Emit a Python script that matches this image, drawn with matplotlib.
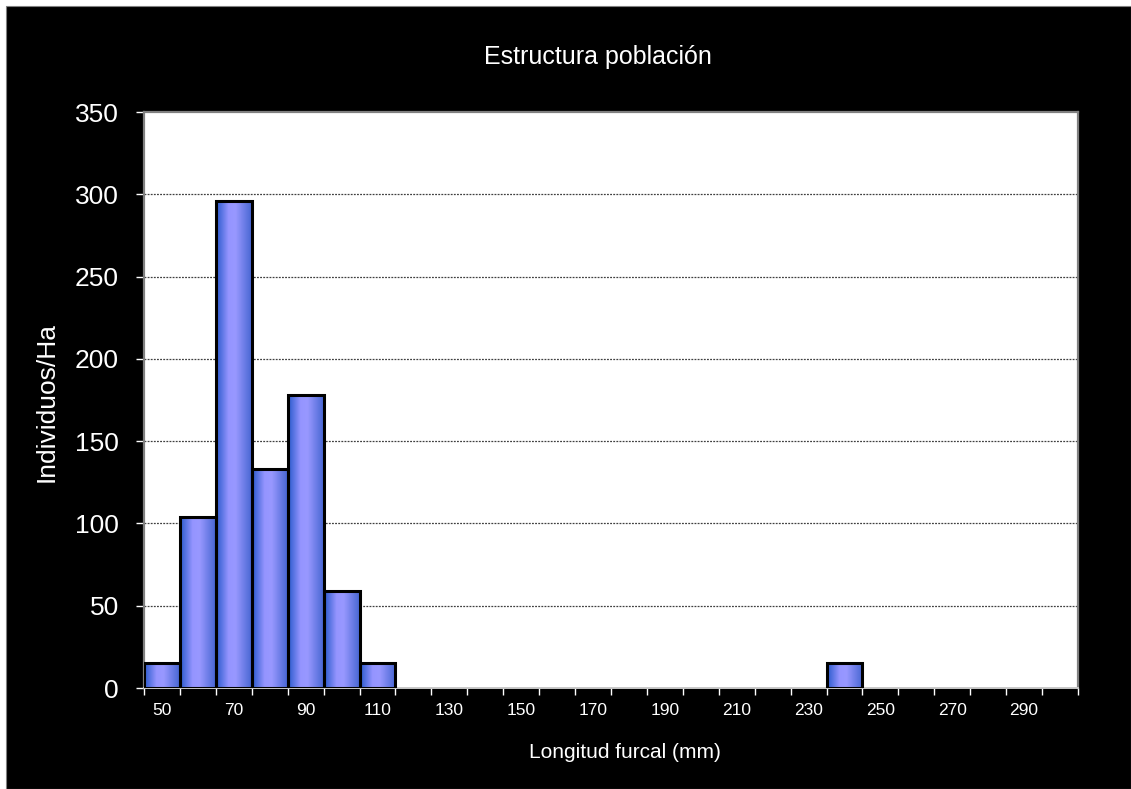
import numpy as np
import matplotlib
matplotlib.use("Agg")
import matplotlib.pyplot as plt
from matplotlib.colors import LinearSegmentedColormap
from matplotlib.patches import Rectangle

# Data
categories = [50, 60, 70, 80, 90, 100, 110, 120, 130, 140, 150, 160, 170, 180,
              190, 200, 210, 220, 230, 240, 250, 260, 270, 280, 290, 300]
values = [15, 104, 296, 133, 178, 59, 15, 0, 0, 0, 0, 0, 0, 0,
          0, 0, 0, 0, 0, 15, 0, 0, 0, 0, 0, 0]
yticks = [0, 50, 100, 150, 200, 250, 300, 350]
title = "Estructura población"
xlabel = "Longitud furcal (mm)"
ylabel = "Individuos/Ha"

plt.rcParams['font.family'] = ['Liberation Sans', 'DejaVu Sans']

W, H = 1131, 789
fig = plt.figure(figsize=(W / 100, H / 100), dpi=100, facecolor='white')
# black background panel (white thin margin at top/left)
bg = fig.add_axes([0, 0, 1, 1], zorder=0)
bg.set_xlim(0, W)
bg.set_ylim(0, H)
bg.axis('off')
bg.add_patch(Rectangle((6, 0), W - 6, H - 6, facecolor='black', edgecolor='#808080',
                       linewidth=0.8))

ax = fig.add_axes([144 / W, (H - 688) / H, (1078 - 144) / W, (688 - 112) / H], zorder=2)
ax.set_facecolor('white')

cmap = LinearSegmentedColormap.from_list('cyl', [(0.0, '#2A5ACC'), (0.35, '#9595FF'),
                                                 (0.55, '#9898FF'), (1.0, '#4766D2')])
grad = np.linspace(0, 1, 64).reshape(1, -1)
n = len(categories)
for i, v in enumerate(values):
    if v <= 0:
        continue
    ax.imshow(grad, extent=[i - 0.5, i + 0.5, 0, v], aspect='auto', cmap=cmap,
              zorder=2, interpolation='bilinear')
    ax.add_patch(Rectangle((i - 0.5, 0), 1, v, facecolor='none', edgecolor='black',
                           linewidth=2.2, zorder=3))

ax.set_xlim(-0.5, n - 0.5)
ax.set_ylim(0, 350)

# gridlines
for y in yticks[1:-1]:
    ax.axhline(y, color='#404040', linestyle=(0, (1.5, 1.0)), linewidth=0.9, zorder=1)

ax.set_yticks(yticks)
ax.set_yticklabels([str(t) for t in yticks], fontsize=19, color='white')
ax.tick_params(axis='y', direction='out', length=6, width=1, color='white', pad=12)

ax.set_xticks(np.arange(-0.5, n, 1.0), minor=True)
ax.set_xticks(np.arange(0, n, 2))
ax.set_xticklabels([str(categories[i]) for i in range(0, n, 2)], fontsize=12.5, color='white')
ax.tick_params(axis='x', which='major', length=0, pad=11)
ax.tick_params(axis='x', which='minor', direction='out', length=5, width=1, color='white')

for s in ['top', 'right', 'left']:
    ax.spines[s].set_color('#808080')
    ax.spines[s].set_linewidth(1.6)
ax.spines['bottom'].set_color('#C8C8C8')
ax.spines['bottom'].set_linewidth(1.4)

fig.text(598 / W, 1 - 57 / H, title, ha='center', va='center', fontsize=18, color='white')
fig.text(625 / W, 1 - 753 / H, xlabel, ha='center', va='center', fontsize=15, color='white')
fig.text(47 / W, 1 - 402 / H, ylabel, ha='center', va='center', fontsize=19, color='white',
         rotation=90)

fig.savefig('out.png', dpi=100, facecolor=fig.get_facecolor())
